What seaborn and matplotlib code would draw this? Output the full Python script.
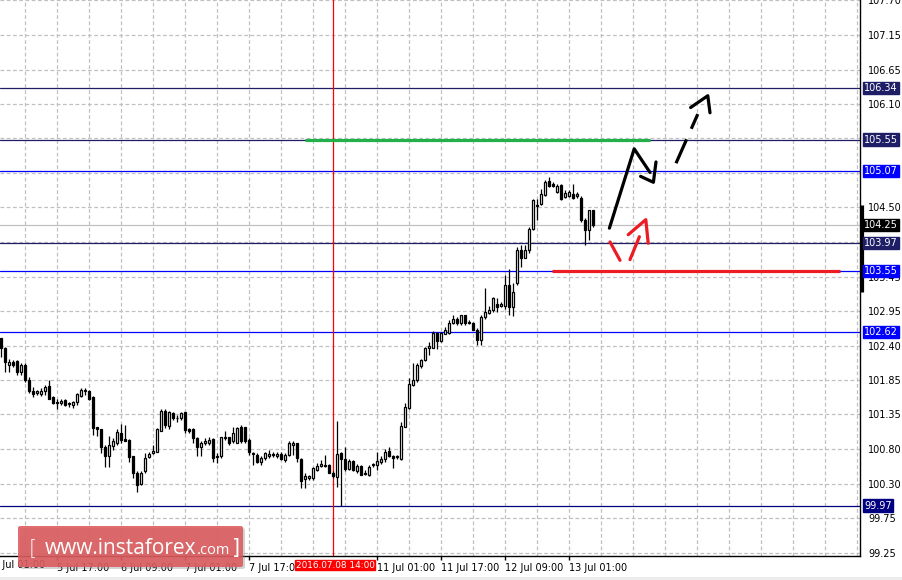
import numpy as np
import pandas as pd
import matplotlib
matplotlib.use('Agg')
import matplotlib.pyplot as plt
import matplotlib.transforms as mtransforms
from matplotlib.patches import FancyBboxPatch, Rectangle
from matplotlib.ticker import FixedLocator
import seaborn as sns

# hourly bars, bar 0 = 5 Jul 01:00 (weekend hours are skipped)
first_bar = 2
opens = [102.52, 102.37, 102.11, 102.16, 102.17, 102.01, 102.11, 101.88, 101.72, 101.68,
         101.67, 101.71, 101.79, 101.63, 101.55, 101.53, 101.58, 101.54, 101.50, 101.55,
         101.64, 101.71, 101.71, 101.63, 101.16, 101.13, 100.87, 100.72, 100.88, 100.93,
         101.08, 100.98, 100.97, 100.72, 100.47, 100.30, 100.49, 100.71, 100.77, 100.79,
         101.11, 101.41, 101.18, 101.38, 101.31, 101.30, 101.39, 101.13, 101.13, 101.00,
         100.86, 100.93, 100.92, 100.98, 100.73, 100.72, 101.00, 101.01, 100.95, 100.93,
         101.17, 101.16, 100.97, 100.77, 100.74, 100.64, 100.69, 100.73, 100.76, 100.72,
         100.76, 100.67, 100.74, 100.89, 100.92, 100.68, 100.37, 100.39, 100.39, 100.51,
         100.58, 100.59, 100.59, 100.47, 100.40, 100.77, 100.68, 100.52, 100.65, 100.50,
         100.57, 100.46, 100.44, 100.59, 100.59, 100.63, 100.68, 100.80, 100.72, 100.71,
         100.68, 101.17, 101.45, 101.81, 101.88, 102.10, 102.19, 102.37, 102.38, 102.60,
         102.48, 102.59, 102.60, 102.75, 102.81, 102.76, 102.87, 102.77, 102.76, 102.65,
         102.49, 102.85, 102.90, 102.95, 103.05, 103.02, 103.02, 103.33, 103.00, 103.36,
         103.86, 103.75, 103.86, 104.19, 104.56, 104.57, 104.70, 104.92, 104.88, 104.75,
         104.86, 104.67, 104.69, 104.72, 104.69, 104.66, 104.32, 104.17, 104.47]
highs = [102.53, 102.39, 102.21, 102.19, 102.19, 102.14, 102.14, 101.93, 101.78, 101.73,
         101.76, 101.81, 101.89, 101.64, 101.60, 101.59, 101.59, 101.55, 101.57, 101.68,
         101.76, 101.76, 101.73, 101.64, 101.17, 101.14, 100.89, 101.03, 101.00, 101.13,
         101.22, 101.20, 100.98, 100.73, 100.49, 100.49, 100.77, 100.79, 100.89, 101.15,
         101.44, 101.44, 101.41, 101.39, 101.35, 101.39, 101.40, 101.15, 101.15, 101.02,
         100.95, 101.00, 101.02, 101.00, 100.77, 101.02, 101.10, 101.02, 101.16, 101.17,
         101.20, 101.17, 101.00, 100.79, 100.77, 100.72, 100.79, 100.81, 100.79, 100.78,
         100.78, 100.77, 100.95, 100.95, 100.93, 100.69, 100.46, 100.44, 100.56, 100.62,
         100.67, 100.74, 100.61, 100.49, 101.26, 100.79, 100.87, 100.68, 100.67, 100.60,
         100.59, 100.51, 100.59, 100.62, 100.79, 100.72, 100.83, 100.87, 100.74, 100.74,
         101.25, 101.53, 101.92, 102.14, 102.14, 102.21, 102.39, 102.47, 102.63, 102.62,
         102.62, 102.70, 102.80, 102.87, 102.84, 102.88, 102.88, 102.80, 102.77, 102.68,
         102.87, 103.28, 103.02, 103.15, 103.13, 103.08, 103.48, 103.58, 103.36, 103.91,
         103.94, 103.94, 104.22, 104.65, 104.65, 104.79, 104.93, 104.98, 104.90, 104.87,
         104.88, 104.78, 104.78, 104.88, 104.75, 104.69, 104.35, 104.48, 104.48]
lows = [102.24, 102.01, 102.01, 102.08, 101.96, 101.96, 101.86, 101.68, 101.63, 101.66,
        101.64, 101.66, 101.59, 101.52, 101.44, 101.51, 101.49, 101.47, 101.45, 101.50,
        101.63, 101.66, 101.58, 101.05, 101.03, 100.77, 100.56, 100.56, 100.82, 100.89,
        100.93, 100.95, 100.64, 100.39, 100.18, 100.29, 100.47, 100.69, 100.76, 100.78,
        101.10, 101.15, 101.14, 101.27, 101.25, 101.27, 101.08, 101.07, 100.92, 100.73,
        100.73, 100.89, 100.89, 100.64, 100.62, 100.69, 100.97, 100.89, 100.92, 100.92,
        100.92, 100.93, 100.74, 100.59, 100.62, 100.59, 100.66, 100.69, 100.71, 100.69,
        100.66, 100.64, 100.72, 100.74, 100.63, 100.23, 100.23, 100.36, 100.36, 100.49,
        100.56, 100.56, 100.46, 100.39, 100.26, 99.97, 100.50, 100.51, 100.50, 100.46,
        100.43, 100.44, 100.42, 100.56, 100.51, 100.61, 100.64, 100.71, 100.54, 100.68,
        100.67, 101.16, 101.44, 101.79, 101.86, 102.06, 102.18, 102.26, 102.37, 102.35,
        102.47, 102.58, 102.59, 102.74, 102.72, 102.72, 102.72, 102.74, 102.64, 102.42,
        102.42, 102.82, 102.89, 102.92, 102.92, 103.00, 102.97, 102.87, 102.86, 103.33,
        103.61, 103.74, 103.82, 104.17, 104.32, 104.55, 104.69, 104.83, 104.83, 104.74,
        104.63, 104.66, 104.68, 104.65, 104.66, 104.29, 103.94, 104.02, 104.22]
closes = [102.37, 102.16, 102.16, 102.11, 102.00, 102.11, 101.88, 101.72, 101.67, 101.71,
          101.72, 101.77, 101.60, 101.53, 101.53, 101.57, 101.50, 101.52, 101.55, 101.67,
          101.73, 101.73, 101.59, 101.15, 101.13, 100.86, 100.73, 100.89, 100.96, 101.09,
          100.97, 100.96, 100.71, 100.47, 100.29, 100.47, 100.69, 100.76, 100.80, 101.13,
          101.41, 101.20, 101.40, 101.30, 101.30, 101.38, 101.12, 101.11, 101.00, 100.86,
          100.92, 100.96, 100.97, 100.70, 100.71, 101.01, 101.01, 100.92, 101.07, 101.15,
          100.95, 100.95, 100.78, 100.76, 100.64, 100.69, 100.77, 100.75, 100.74, 100.76,
          100.68, 100.74, 100.92, 100.92, 100.69, 100.35, 100.42, 100.42, 100.54, 100.58,
          100.60, 100.58, 100.47, 100.42, 100.76, 100.68, 100.52, 100.65, 100.51, 100.57,
          100.44, 100.45, 100.55, 100.60, 100.65, 100.68, 100.79, 100.72, 100.70, 100.72,
          101.18, 101.47, 101.82, 101.88, 102.11, 102.19, 102.37, 102.40, 102.60, 102.48,
          102.60, 102.64, 102.75, 102.81, 102.75, 102.87, 102.75, 102.76, 102.65, 102.49,
          102.85, 102.92, 102.95, 103.13, 103.00, 103.04, 103.33, 103.00, 103.23, 103.86,
          103.74, 103.87, 104.19, 104.63, 104.54, 104.72, 104.90, 104.85, 104.85, 104.85,
          104.65, 104.74, 104.75, 104.66, 104.72, 104.32, 104.17, 104.47, 104.25]

# price levels drawn across the chart
level_prices = [106.34, 105.55, 105.07, 103.97, 103.55, 102.62, 99.97]
level_colors = ['#1e1e66', '#1e1e66', '#0000ff', '#1e1e66', '#0000ff', '#0000ff', '#000080']
last_price = 104.25
marked_bar = 85
marked_time = '2016.07.08 14:00'

# grid / tick values
y_ticks = [107.68, 107.15, 106.62, 106.10, 105.57, 105.04, 104.52, 103.99, 103.46,
           102.94, 102.41, 101.88, 101.36, 100.83, 100.30, 99.78, 99.25]
y_labels = ['107.70', '107.15', '106.65', '106.10', '', '', '104.50', '', '103.45',
            '102.95', '102.40', '101.85', '101.35', '100.80', '100.30', '99.75', '99.25']
x_ticks = [16, 32, 48, 64, 96, 112, 128, 144]
x_labels = ['5 Jul 17:00', '6 Jul 09:00', '7 Jul 01:00', '7 Jul 17:00',
            '11 Jul 01:00', '11 Jul 17:00', '12 Jul 09:00', '13 Jul 01:00']
x_grid = [8, 16, 24, 32, 40, 48, 56, 64, 72, 80, 88, 96, 104, 112, 120, 128, 136,
          144, 152, 160, 168, 176, 184, 192, 200, 208, 216]

# hand drawn forecast (bar, price)
green_span = (78, 164.25, 105.55)
red_span = (139.75, 211.75, 103.55)
black_path_x = [154.1, 160.3, 164.25]
black_path_y = [104.20, 105.41, 105.05]
black_head_x = [161.9, 165.1, 165.75]
black_head_y = [104.99, 104.90, 105.21]
dash_x = [170.75, 176.2]
dash_y = [105.19, 105.94]
dash_head_x = [174.4, 178.7, 179.25]
dash_head_y = [106.04, 106.22, 105.96]
red_a_x, red_a_y = [154.25, 156.75], [103.99, 103.71]
red_b_x, red_b_y = [159.25, 161.6], [103.72, 104.07]
red_head_x = [158.8, 163.2, 163.8]
red_head_y = [104.10, 104.33, 103.97]

df = pd.DataFrame({'bar': np.arange(first_bar, first_bar + len(opens)),
                   'open': opens, 'high': highs, 'low': lows, 'close': closes})
df['up'] = df['close'] >= df['open']
df['body'] = (df['close'] - df['open']).abs().clip(lower=0.012)
df['bottom'] = df[['open', 'close']].min(axis=1)

sns.set_style('white')
plt.rcParams['font.family'] = ['DejaVu Sans']
fs = 7

W, H = 903, 580
fig = plt.figure(figsize=(W / 100, H / 100), dpi=100)
fig.patch.set_facecolor('white')
ax = fig.add_axes([0, 24 / H, 860 / W, 556 / H])
ax.set_facecolor('white')

# grid
ax.set_xlim(1.75, 216.75)
ax.set_ylim(99.20, 107.67)
ax.yaxis.tick_right()
ax.set_yticks(y_ticks, labels=y_labels)
ax.set_xticks(x_ticks, labels=x_labels)
ax.xaxis.set_minor_locator(FixedLocator(x_grid))
for lbl in ax.get_xticklabels():
    lbl.set_horizontalalignment('left')
ax.tick_params(axis='y', direction='out', length=3, width=1, pad=3, labelsize=fs,
               colors='black', right=True, left=False)
ax.tick_params(axis='x', which='major', direction='out', length=3, width=1, pad=2,
               labelsize=fs, colors='black', bottom=True)
ax.tick_params(axis='x', which='minor', length=0)
grid_kw = dict(color='#c0c0c0', linestyle=(0, (3, 2)), linewidth=0.9)
ax.grid(True, axis='x', which='both', **grid_kw)
ax.grid(True, axis='y', which='major', **grid_kw)
ax.set_axisbelow(True)
sns.despine(ax=ax, left=True, top=True, right=False, bottom=False)
for side in ['right', 'bottom']:
    ax.spines[side].set_color('black')
    ax.spines[side].set_linewidth(1)

# price levels
ax.axhline(last_price, color='#c0c0c0', lw=0.9, zorder=1)
for p, c in zip(level_prices, level_colors):
    ax.axhline(p, color=c, lw=0.9, zorder=1.5)
ax.axvline(marked_bar, color='#ff0000', lw=0.9, zorder=1.5)

# candles
ax.vlines(df['bar'], df['low'], df['high'], color='black', lw=0.9, zorder=3)
up = df[df['up']]
dn = df[~df['up']]
ax.bar(up['bar'], up['body'], bottom=up['bottom'], width=0.58, color='white',
       edgecolor='black', linewidth=0.9, zorder=4)
ax.bar(dn['bar'], dn['body'], bottom=dn['bottom'], width=0.58, color='black',
       edgecolor='black', linewidth=0.9, zorder=4)

# forecast drawings
ax.hlines(green_span[2], green_span[0], green_span[1], color='#22b04a', lw=2.3, zorder=5)
ax.hlines(red_span[2], red_span[0], red_span[1], color='#ec1c24', lw=2.3, zorder=5)
ax.plot(black_path_x, black_path_y, color='black', lw=2.3, zorder=6,
        solid_capstyle='round', solid_joinstyle='round')
ax.plot(black_head_x, black_head_y, color='black', lw=2.3, zorder=6,
        solid_capstyle='round', solid_joinstyle='round')
ax.plot(dash_x, dash_y, color='black', lw=2.3, zorder=6, linestyle=(0, (8.2, 3.6)))
ax.plot(dash_head_x, dash_head_y, color='black', lw=2.3, zorder=6,
        solid_capstyle='round', solid_joinstyle='round')
for xs, ys in [(red_a_x, red_a_y), (red_b_x, red_b_y), (red_head_x, red_head_y)]:
    ax.plot(xs, ys, color='#ec1c24', lw=2.3, zorder=6,
            solid_capstyle='round', solid_joinstyle='round')

# price boxes on the right scale
right_tr = mtransforms.blended_transform_factory(ax.transAxes, ax.transData)
ax.plot([1 + 1.5 / 860] * 2, [104.55, 103.22], transform=right_tr, color='black',
        lw=2.3, clip_on=False, zorder=6, solid_capstyle='butt')
for p, c in zip(level_prices, level_colors):
    ax.text(1 + 4 / 860, p, f'{p:.2f}', transform=right_tr, ha='left', va='center',
            fontsize=fs, color='white', zorder=8, clip_on=False,
            bbox=dict(boxstyle='square,pad=0.12', facecolor=c, edgecolor=c))
ax.text(1 + 4 / 860, last_price, f'{last_price:.2f}', transform=right_tr, ha='left',
        va='center', fontsize=fs, color='white', zorder=8, clip_on=False,
        bbox=dict(boxstyle='square,pad=0.12', facecolor='black', edgecolor='black'))

# time axis extras
bottom_tr = mtransforms.blended_transform_factory(ax.transData, ax.transAxes)
ax.text(0, -9 / 556, '5 Jul 01:00', transform=bottom_tr, ha='left', va='center',
        fontsize=fs, color='black', clip_on=False)
ax.text(marked_bar + 0.5, -9 / 556, marked_time, transform=bottom_tr, ha='center',
        va='center', fontsize=6.4, color='white', clip_on=False, zorder=8,
        bbox=dict(boxstyle='square,pad=0.1', facecolor='#ff0000', edgecolor='#ff0000'))

# bottom frame strip
fig.patches.append(Rectangle((0, 0), 1, 3 / H, transform=fig.transFigure,
                             facecolor='#ececec', edgecolor='none'))

# watermark
fig.patches.append(FancyBboxPatch((20 / W, 11 / H), 225 / W, 41 / H,
                                  boxstyle='round,pad=0,rounding_size=0.003',
                                  transform=fig.transFigure, facecolor='#808080',
                                  edgecolor='none', alpha=0.35, zorder=9))
fig.patches.append(FancyBboxPatch((18 / W, 13 / H), 225 / W, 41 / H,
                                  boxstyle='round,pad=0,rounding_size=0.003',
                                  transform=fig.transFigure, facecolor='#dc5a5c',
                                  edgecolor='none', alpha=0.88, zorder=10))
fig.text(29 / W, 26 / H, '[', fontsize=15, color='white', va='baseline', ha='left',
         zorder=11, fontweight='light')
t1 = fig.text(45 / W, 26 / H, 'www.instaforex', fontsize=15, color='white',
              va='baseline', ha='left', zorder=11, family=['Open Sans', 'DejaVu Sans'])
fig.canvas.draw()
bb = t1.get_window_extent()
t2 = fig.text(bb.x1 / W, 26 / H, '.com', fontsize=10.5, color='white', va='baseline',
              ha='left', zorder=11, family=['Open Sans', 'DejaVu Sans'])
fig.canvas.draw()
bb2 = t2.get_window_extent()
fig.text(bb2.x1 / W + 2 / W, 26 / H, ']', fontsize=15, color='white', va='baseline',
         ha='left', zorder=11)

fig.savefig('out.png', dpi=100, facecolor='white')
